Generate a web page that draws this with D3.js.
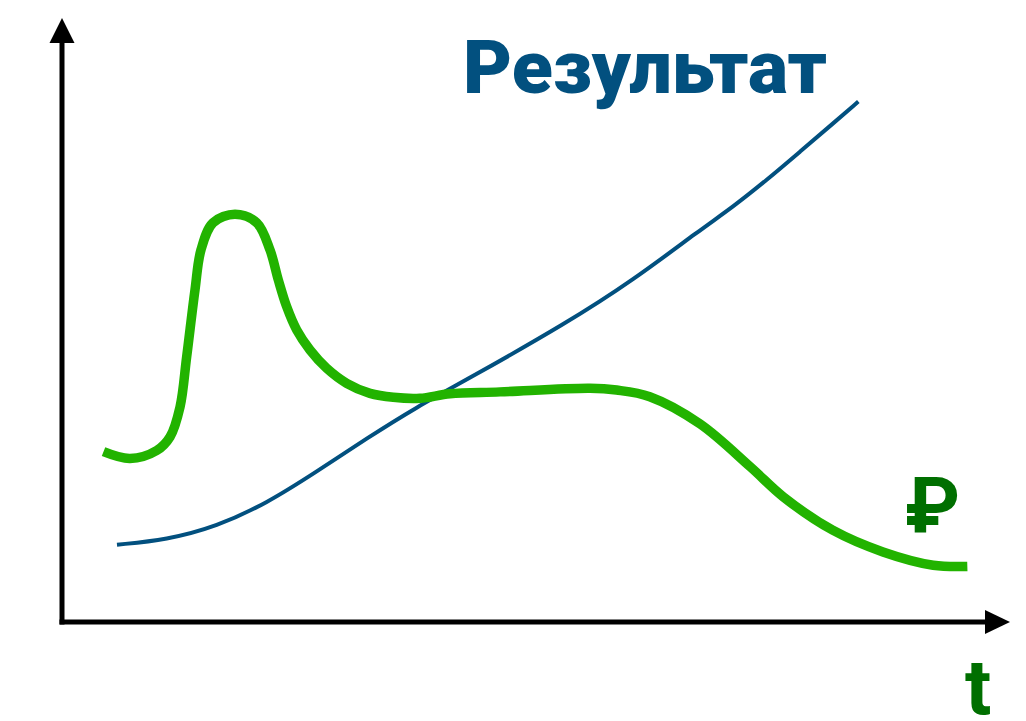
<!DOCTYPE html>
<html><head><meta charset="utf-8">
<script src="https://cdn.jsdelivr.net/npm/d3@7"></script>
<style>html,body{margin:0;padding:0;background:#fff;}svg{display:block;}</style>
</head><body>
<script>
// Data (abstract units: t on x 0..100, value on y 0..100)
const moneyT = [4.38, 7.17, 9.99, 11.39, 12.45, 13.15, 14.03, 14.66, 15.93, 18.25, 20.54, 21.94, 22.82, 23.70, 24.76, 26.16, 27.92, 30.03, 32.49, 34.95, 37.76, 40.93, 46.2, 55.7, 58.5, 62.0, 67.3, 72.6, 76.1, 81.3, 86.6, 91.9, 95.5];
const moneyV = [28.2, 27.07, 28.39, 30.63, 35.6, 43.9, 55.0, 61.6, 66.1, 67.5, 66.1, 61.6, 56.62, 52.2, 48.34, 45.03, 42.0, 39.52, 37.86, 37.2, 37.04, 37.8, 38.1, 38.7, 38.4, 37.3, 32.8, 25.7, 20.7, 15.2, 11.6, 9.4, 9.2];
const resultT = [5.80, 11.04, 16.32, 21.59, 26.87, 32.14, 37.42, 42.69, 53.24, 60.26, 67.3, 70.81, 74.34, 77.85, 81.36, 84.0];
const resultV = [12.8, 13.6, 15.8, 19.65, 24.9, 30.4, 35.6, 40.1, 49.5, 56.6, 64.9, 68.76, 73.18, 77.87, 82.57, 86.16];
const labels = {result: "Результат", money: "₽", axisX: "t"};

const W = 1026, H = 721;
const svg = d3.select("body").append("svg").attr("width", W).attr("height", H);

const x = d3.scaleLinear().domain([0, 100]).range([62, 1010]);
const y = d3.scaleLinear().domain([0, 100]).range([622, 18]);

// Axes
const axisG = svg.append("g");
axisG.append("line").attr("x1", x(0)).attr("x2", x(0)).attr("y1", y(0) + 2.5).attr("y2", y(100) + 20)
  .attr("stroke", "#000").attr("stroke-width", 5);
axisG.append("line").attr("x1", x(0) - 2.5).attr("x2", x(100) - 20).attr("y1", y(0)).attr("y2", y(0))
  .attr("stroke", "#000").attr("stroke-width", 5);
axisG.append("path")
  .attr("d", `M${x(0)},${y(100)} L${x(0) + 12.5},${y(100) + 25} L${x(0) - 12.5},${y(100) + 25} Z`)
  .attr("fill", "#000");
axisG.append("path")
  .attr("d", `M${x(100)},${y(0)} L${x(100) - 25},${y(0) - 12} L${x(100) - 25},${y(0) + 12} Z`)
  .attr("fill", "#000");

const blueLine = d3.line().x(d => x(d[0])).y(d => y(d[1])).curve(d3.curveBasis);
const greenLine = d3.line().x(d => x(d[0])).y(d => y(d[1])).curve(d3.curveCatmullRom.alpha(0.5));

svg.append("path")
  .datum(d3.zip(resultT, resultV))
  .attr("d", blueLine)
  .attr("fill", "none").attr("stroke", "#02507f").attr("stroke-width", 4);

svg.append("path")
  .datum(d3.zip(moneyT, moneyV))
  .attr("d", greenLine)
  .attr("fill", "none").attr("stroke", "#22b300").attr("stroke-width", 9.5);

// Labels
svg.append("text").attr("x", 463).attr("y", 93)
  .attr("font-family", "Roboto, 'Liberation Sans', sans-serif").attr("font-weight", 900)
  .attr("font-size", 74).attr("fill", "#02507f")
  .attr("textLength", 364).attr("lengthAdjust", "spacingAndGlyphs")
  .text(labels.result);

svg.append("text").attr("x", 905).attr("y", 533)
  .attr("font-family", "Roboto, 'DejaVu Sans', sans-serif").attr("font-weight", 700)
  .attr("font-size", 78).attr("fill", "#006f00")
  .text(labels.money);

svg.append("text").attr("x", 965).attr("y", 714)
  .attr("font-family", "Roboto, 'Liberation Sans', sans-serif").attr("font-weight", 700)
  .attr("font-size", 78).attr("fill", "#006f00")
  .text(labels.axisX);
</script>
</body></html>
